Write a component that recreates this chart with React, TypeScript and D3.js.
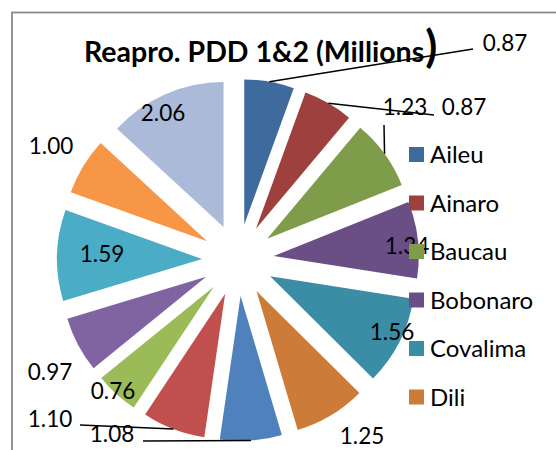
import React from 'react';
import * as d3 from 'd3';

const categories = ['Aileu', 'Ainaro', 'Baucau', 'Bobonaro', 'Covalima', 'Dili', 'Ermera', 'Lautem', 'Liquica', 'Manatuto', 'Manufahi', 'Oecusse', 'Viqueque'];
const values = [0.87, 0.87, 1.23, 1.34, 1.56, 1.25, 1.08, 1.10, 0.76, 0.97, 1.59, 1.00, 2.06];
const colors = ['#3F6A9D', '#9E413E', '#7F9C4A', '#6A4F87', '#3A8DA5', '#CC7B38', '#4F81BD', '#C0504D', '#9BBB59', '#8064A2', '#4BACC6', '#F79646', '#AABAD8'];
const legendShown = 6;

// label centres and leader end points (layout only)
const labelAt: [number, number][] = [
  [505, 43], [464, 107], [405, 107], [407, 246], [392, 332], [362, 436],
  [112, 434], [50, 419], [113, 391], [50, 372], [102, 254], [51, 146], [163, 113],
];
const leaderEnd: ([number, number] | null)[] = [
  [473, 49], [434, 115], [384, 125], null, null, null,
  [143, 441], [80, 425], null, null, null, null, null,
];

const width = 556;
const height = 450;
const cx = 238;
const cy = 260;
const radius = 145;
const explode = 36;
const font = 'Lato, "Open Sans", sans-serif';

const App = () => {
  const pie = d3.pie<number>().sort(null).startAngle(0).endAngle(2 * Math.PI);
  const arcs = pie(values);
  const arc = d3.arc<d3.PieArcDatum<number>>().innerRadius(0).outerRadius(radius);

  const legendY = d3.scalePoint<number>()
    .domain(d3.range(legendShown))
    .range([154.5, 154.5 + 48.5 * (legendShown - 1)]);

  return (
    <svg width={width} height={height} style={{ position: 'absolute', left: 0, top: 0, background: '#fff' }}
      fontFamily={font}>
      <rect x={12} y={12.5} width={width + 50} height={height + 50} fill="#fff" stroke="#8A8A8A" strokeWidth={1.8} />

      <g transform={`translate(${cx},${cy})`}>
        {arcs.map((a, i) => {
          const mid = (a.startAngle + a.endAngle) / 2;
          const ox = Math.sin(mid) * explode;
          const oy = -Math.cos(mid) * explode;
          return (
            <path key={i} d={arc(a) || ''} fill={colors[i]} transform={`translate(${ox},${oy})`} />
          );
        })}
      </g>

      <text x={84} y={62} fontSize={28.5} fontWeight="bold" fill="#000">
        Reapro. PDD 1&amp;2 (Millions<tspan fontSize={44} dx={1}>)</tspan>
      </text>

      {arcs.map((a, i) => {
        const end = leaderEnd[i];
        if (!end) return null;
        const mid = (a.startAngle + a.endAngle) / 2;
        const sx = cx + Math.sin(mid) * (radius + explode);
        const sy = cy - Math.cos(mid) * (radius + explode);
        return <line key={i} x1={sx} y1={sy} x2={end[0]} y2={end[1]} stroke="#000" strokeWidth={1.5} />;
      })}

      {values.map((v, i) => (
        <text key={i} x={labelAt[i][0]} y={labelAt[i][1]} dy="0.36em" textAnchor="middle" fontSize={22.5} fill="#000">
          {d3.format('.2f')(v)}
        </text>
      ))}

      {categories.slice(0, legendShown).map((c, i) => (
        <g key={c} transform={`translate(409,${legendY(i)})`}>
          <rect x={0} y={-7.5} width={15} height={15} fill={colors[i]} />
          <text x={21} y={0} dy="0.36em" fontSize={24} fill="#000">{c}</text>
        </g>
      ))}
    </svg>
  );
};

export default App;
